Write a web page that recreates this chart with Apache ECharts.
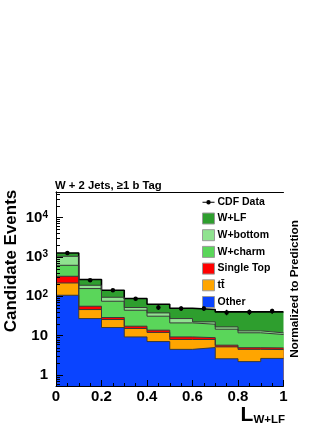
<!DOCTYPE html>
<html>
<head>
<meta charset="utf-8">
<script src="https://cdn.jsdelivr.net/npm/echarts@6/dist/echarts.min.js"></script>
<style>
html,body{margin:0;padding:0;background:#fff;}
#chart{width:332px;height:430px;}
</style>
</head>
<body>
<div id="chart"></div>
<script>
// ---- data ----
const binLow = [0, 0.1, 0.2, 0.3, 0.4, 0.5, 0.6, 0.7, 0.8, 0.9];
const binCenter = [0.05, 0.15, 0.25, 0.35, 0.45, 0.55, 0.65, 0.75, 0.85, 0.95];
const binUpperEdge = 1;
const other     = [106, 27.2, 16.1, 9.3, 7.1, 4.5, 5.0, 2.6, 2.2, 2.65];
const ttbar     = [111, 18.8, 9.6, 5.9, 5.0, 3.5, 3.0, 2.6, 2.3, 1.8];
const singleTop = [104, 9.8, 3.2, 2.2, 1.7, 1.3, 0.9, 0.55, 0.45, 0.45];
const wCharm    = [288, 101, 45.8, 26.8, 17.4, 11.8, 10.6, 8.85, 6.9, 5.8];
const wBottom   = [421, 33, 19.6, 7.6, 6.6, 6.1, 2.9, 2.1, 1.4, 1.1];
const wLF       = [218, 75, 47.7, 35.7, 24.9, 22.6, 23.7, 23.4, 26.9, 28.3];
const cdfData   = [1250, 254, 142, 87, 52, 49, 49, 39, 40, 42];
const xTickLabels = ['0', '0.2', '0.4', '0.6', '0.8', '1'];
const minorTickValues = [0.6,0.7,0.8,0.9, 2,3,4,5,6,7,8,9, 20,30,40,50,60,70,80,90,
  200,300,400,500,600,700,800,900, 2000,3000,4000,5000,6000,7000,8000,9000, 20000,30000,40000];

const layerNames  = ['Other', 'tt\u0304', 'Single Top', 'W+charm', 'W+bottom', 'W+LF'];
const layerValues = [other, ttbar, singleTop, wCharm, wBottom, wLF];
const layerColors = ['#0a44ff', '#ffa500', '#ff0000', '#5ad65a', '#90e290', '#2e9e2e'];

// cumulative stacks
const cum = [];
layerValues.forEach((arr, k) => {
  cum.push(arr.map((v, i) => v + (k > 0 ? cum[k - 1][i] : 0)));
});
function stepData(vals) {
  return binLow.map((x, i) => [x, vals[i]]).concat([[binUpperEdge, vals[vals.length - 1]]]);
}

const FONT = 'Liberation Sans, Arial, Helvetica, sans-serif';
const series = [];
for (let k = layerNames.length - 1; k >= 0; k--) {
  const isTop = k === layerNames.length - 1;
  series.push({
    name: layerNames[k],
    type: 'line',
    step: 'end',
    data: stepData(cum[k]),
    symbol: 'none',
    showSymbol: false,
    color: layerColors[k],
    lineStyle: { color: isTop ? '#000' : '#3a3a3a', width: isTop ? 1.6 : 1 },
    areaStyle: { color: layerColors[k], opacity: 1, origin: 'start' },
    emphasis: { disabled: true },
    silent: true,
    z: 2
  });
}
// minor log ticks
series.push({
  type: 'custom',
  silent: true,
  z: 12,
  data: minorTickValues.map(v => [0, v]),
  renderItem: function (params, api) {
    const p = api.coord([api.value(0), api.value(1)]);
    const y = Math.round(p[1]) + 0.5;
    return { type: 'line', shape: { x1: p[0], y1: y, x2: p[0] + 4, y2: y },
             style: { stroke: '#000', lineWidth: 1 } };
  }
});
// error bars
series.push({
  type: 'custom',
  silent: true,
  z: 13,
  data: binCenter.map((x, i) => [x, cdfData[i]]),
  renderItem: function (params, api) {
    const x = api.value(0), v = api.value(1), e = Math.sqrt(v);
    const a = api.coord([x, v + e]);
    const b = api.coord([x, Math.max(v - e, 0.6)]);
    return { type: 'line', shape: { x1: a[0], y1: a[1], x2: b[0], y2: b[1] },
             style: { stroke: '#000', lineWidth: 1.2 } };
  }
});
series.push({
  name: 'CDF Data',
  type: 'line',
  data: binCenter.map((x, i) => [x, cdfData[i]]),
  symbol: 'circle',
  symbolSize: 4.5,
  showSymbol: true,
  color: '#000',
  itemStyle: { color: '#000' },
  lineStyle: { width: 0, opacity: 0 },
  emphasis: { disabled: true },
  silent: true,
  z: 14
});

const dataIcon = 'path://M0,0 L0.01,0 M0,11 L0.01,11 M0,5 L12,5 L12,6 L0,6 Z ' +
  'M8.2,5.5 A2.2,2.2 0 1 1 3.8,5.5 A2.2,2.2 0 1 1 8.2,5.5 Z';
const legendItems = [
  { name: 'CDF Data', icon: dataIcon, itemStyle: { color: '#000', borderWidth: 0 } }
];
for (let k = layerNames.length - 1; k >= 0; k--) {
  legendItems.push({ name: layerNames[k], icon: 'rect',
    itemStyle: { color: layerColors[k], borderColor: '#9a9a9a', borderWidth: 1 } });
}

const chart = echarts.init(document.getElementById('chart'), null, { renderer: 'canvas' });
chart.setOption({
  animation: false,
  backgroundColor: '#fff',
  grid: { left: 56, right: 48.5, top: 192, bottom: 44, containLabel: false },
  legend: {
    orient: 'vertical', left: 202, top: 196.8, padding: 0,
    itemWidth: 12, itemHeight: 11, itemGap: 4.7,
    selectedMode: false,
    textStyle: { fontFamily: FONT, fontWeight: 'bold', fontSize: 10.5, color: '#000', lineHeight: 11, padding: [0, 0, 0, -2] },
    data: legendItems
  },
  xAxis: [{
    type: 'value', min: 0, max: 1, interval: 0.2,
    axisLine: { show: true, lineStyle: { color: '#000', width: 1 } },
    axisTick: { show: true, inside: true, length: 6, lineStyle: { color: '#000' } },
    minorTick: { show: true, splitNumber: 4, length: 3, lineStyle: { color: '#000' } },
    splitLine: { show: false },
    axisLabel: { margin: 3, fontFamily: FONT, fontWeight: 'bold', fontSize: 15, color: '#000',
      formatter: function (v) { return xTickLabels[Math.round(v / 0.2)]; } },
    z: 10
  }, {
    type: 'value', min: 0, max: 1, position: 'top',
    axisLine: { show: true, lineStyle: { color: '#000', width: 1 } },
    axisTick: { show: false }, axisLabel: { show: false }, splitLine: { show: false },
    z: 10
  }],
  yAxis: [{
    type: 'log', logBase: 10, min: 0.53, max: 44000,
    axisLine: { show: true, lineStyle: { color: '#000', width: 1 } },
    axisTick: { show: true, inside: true, length: 7, lineStyle: { color: '#000' } },
    splitLine: { show: false },
    axisLabel: {
      margin: 8, fontFamily: FONT, fontWeight: 'bold', fontSize: 15, color: '#000',
      formatter: function (v) {
        const e = Math.log10(v);
        const n = Math.round(e);
        if (Math.abs(e - n) > 1e-6) return '';
        if (n === 0) return '{b|1}';
        if (n === 1) return '{b|10}';
        return '{b|10}{s|' + n + '}';
      },
      rich: {
        b: { fontFamily: FONT, fontWeight: 'bold', fontSize: 15, lineHeight: 15, color: '#000' },
        s: { fontFamily: FONT, fontWeight: 'bold', fontSize: 10, lineHeight: 10, color: '#000', verticalAlign: 'top' }
      }
    },
    z: 10
  }, {
    type: 'log', logBase: 10, min: 0.53, max: 44000, position: 'right',
    axisLine: { show: true, lineStyle: { color: '#000', width: 1 } },
    axisTick: { show: false }, axisLabel: { show: false }, splitLine: { show: false },
    z: 10
  }],
  graphic: [
    { type: 'text', x: 55, y: 186, z: 20,
      style: { text: 'W + 2 Jets, \u22651 b Tag', fontFamily: FONT, fontWeight: 'bold', fontSize: 11.3,
               fill: '#000', align: 'left', verticalAlign: 'middle' } },
    { type: 'text', x: 11, y: 261, rotation: Math.PI / 2, z: 20,
      style: { text: 'Candidate Events', fontFamily: FONT, fontWeight: 'bold', fontSize: 17,
               fill: '#000', align: 'center', verticalAlign: 'middle' } },
    { type: 'text', x: 295, y: 289, rotation: Math.PI / 2, z: 20,
      style: { text: 'Normalized to Prediction', fontFamily: FONT, fontWeight: 'bold', fontSize: 11.7,
               fill: '#000', align: 'center', verticalAlign: 'middle' } },
    { type: 'text', x: 285, y: 426, z: 20,
      style: { text: '{L|L}{s|W+LF}', align: 'right', verticalAlign: 'bottom',
               rich: {
                 L: { fontFamily: FONT, fontWeight: 'bold', fontSize: 21, lineHeight: 21, fill: '#000', verticalAlign: 'bottom' },
                 s: { fontFamily: FONT, fontWeight: 'bold', fontSize: 11.5, lineHeight: 11.5, fill: '#000', verticalAlign: 'bottom' }
               } } }
  ],
  series: series
});
</script>
</body>
</html>
